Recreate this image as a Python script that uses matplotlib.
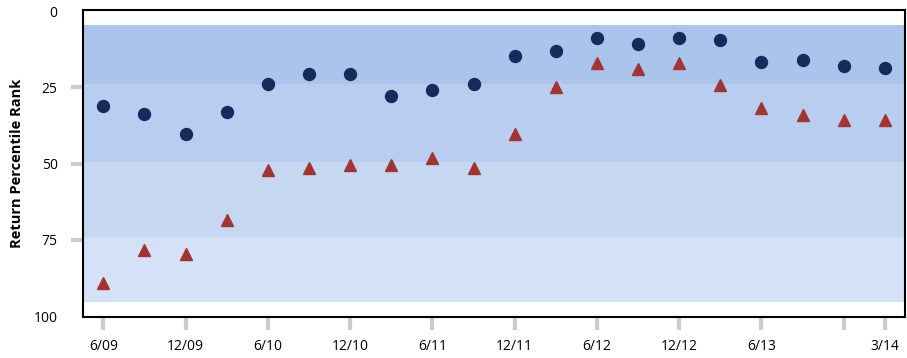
import matplotlib
matplotlib.use("Agg")
import matplotlib.pyplot as plt

# fechas trimestrales (jun 2009 - mar 2014)
trimestres = ["6/09", "9/09", "12/09", "3/10", "6/10", "9/10", "12/10", "3/11",
              "6/11", "9/11", "12/11", "3/12", "6/12", "9/12", "12/12", "3/13",
              "6/13", "9/13", "12/13", "3/14"]

# rango percentil de retorno (circulos y triangulos)
rank_circulos = [31.1, 33.7, 40.2, 33.0, 23.9, 20.6, 20.6, 27.9, 25.9, 23.9,
                 14.7, 12.9, 8.9, 10.8, 8.9, 9.6, 16.7, 16.0, 18.0, 18.7]
rank_triangulos = [89.2, 78.2, 79.5, 68.4, 52.1, 51.5, 50.3, 50.3, 48.3, 51.5,
                   40.4, 24.7, 17.0, 18.9, 17.0, 24.1, 31.9, 33.9, 35.8, 35.8]

# bandas de percentiles (5, 25, 50, 75, 95)
bandas = [4.6, 23.9, 49.3, 74.1, 95.3]
colores_bandas = ["#abc4ec", "#b9cdf0", "#c6d8f1", "#d4e1f6"]

# ticks del eje x
pos_ticks = [0, 2, 4, 6, 8, 10, 12, 14, 16, 18, 19]
etiquetas_ticks = ["6/09", "12/09", "6/10", "12/10", "6/11", "12/11", "6/12",
                   "12/12", "6/13", "", "3/14"]
y_ticks = [0, 25, 50, 75, 100]

plt.rcParams['font.family'] = ['Open Sans', 'DejaVu Sans']

fig = plt.figure(figsize=(9.07, 3.58), dpi=100)
ax = fig.add_axes([0.0912, 0.1154, 0.9071, 0.8567])

# bandas de fondo
for i in range(len(colores_bandas)):
    ax.axhspan(bandas[i], bandas[i + 1], color=colores_bandas[i], lw=0, zorder=0)

x = list(range(len(trimestres)))
ax.plot(x, rank_circulos, linestyle='none', marker='o', markersize=8.6,
        color='#172a5c', zorder=3)
ax.plot(x, rank_triangulos, linestyle='none', marker='^', markersize=8.2,
        color='#a33434', zorder=3)

ax.set_xlim(-0.5, 19.5)
ax.set_ylim(100.2, -0.4)

ax.set_xticks(pos_ticks)
ax.set_xticklabels(etiquetas_ticks, fontsize=10)
ax.set_yticks(y_ticks)
ax.set_yticklabels([str(v) for v in y_ticks], fontsize=10)

ax.tick_params(axis='both', direction='out', length=9, width=3, color='#c8cdd2')
ax.tick_params(axis='x', pad=7)
ax.tick_params(axis='y', pad=9)
# sin marca en 0 y 100
for t in [ax.yaxis.get_major_ticks()[0], ax.yaxis.get_major_ticks()[-1]]:
    t.tick1line.set_visible(False)

for s in ax.spines.values():
    s.set_color('black')
    s.set_linewidth(1.5)

ax.set_ylabel('Return Percentile Rank', fontsize=10.5, fontweight='bold', labelpad=7)

fig.savefig("out.png", dpi=100)
